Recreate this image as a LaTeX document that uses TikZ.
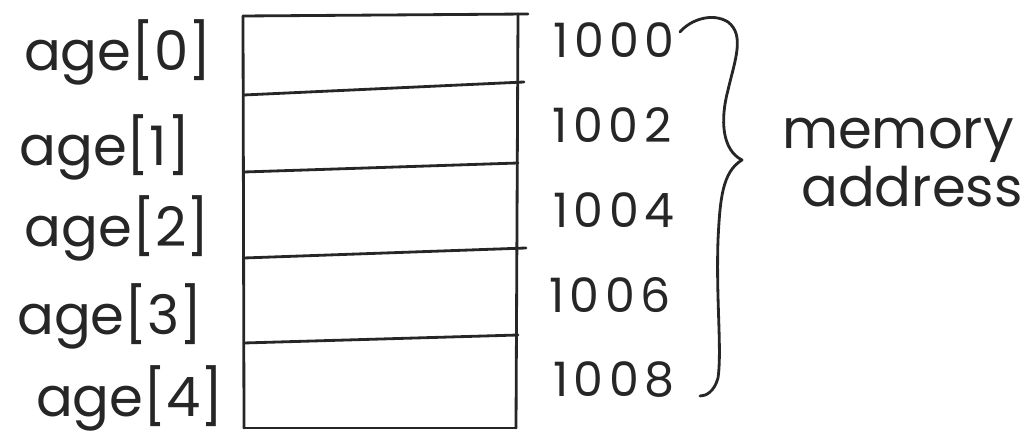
\documentclass[tikz,border=0pt]{standalone}
\usepackage{fontspec}
\setmainfont{Poppins}
\begin{document}
\begin{tikzpicture}[x=0.02cm,y=-0.02cm,
  ink/.style={line width=1.6pt,draw=black!85,line cap=round,line join=round},
  lbl/.style={font=\fontsize{31}{36}\selectfont\color{black!85},inner sep=0pt},
  num/.style={font=\fontsize{27}{32}\selectfont\color{black!85},inner sep=0pt},
  wide/.style={font=\fontsize{27}{32}\selectfont\addfontfeature{LetterSpace=12}\color{black!85},inner sep=0pt}]
\useasboundingbox (0,0) rectangle (1034,448);
% memory block
\draw[ink] (243,16) -- (528,14);
\draw[ink] (243,16) -- (244,428);
\draw[ink] (518,14) -- (516,428);
\draw[ink] (244,428) -- (516,428);
\draw[ink] (244,95) -- (524,82);
\draw[ink] (244,172) -- (518,163);
\draw[ink] (244,258) -- (526,248);
\draw[ink] (244,343) -- (518,335);
% labels
\node[lbl] (a0) at (118,52) {age[0]};
\node[lbl] (a1) at (105,147) {age[1]};
\node[lbl] (a2) at (117,228) {age[2]};
\node[lbl] (a3) at (110,316) {age[3]};
\node[lbl] (a4) at (130,398) {age[4]};
% addresses
\node[wide] (m0) at (614,40) {1000};
\node[wide] (m1) at (612,125) {1002};
\node[wide] (m2) at (614,210) {1004};
\node[wide] (m3) at (610,295) {1006};
\node[wide] (m4) at (614,380) {1008};
% brace
\draw[ink] (680,32) .. controls (690,20) and (712,12) .. (728,22)
  .. controls (745,35) and (735,60) .. (728,90)
  .. controls (720,120) and (722,150) .. (742,160)
  .. controls (722,172) and (720,200) .. (718,240)
  .. controls (716,300) and (722,350) .. (718,378)
  .. controls (714,392) and (706,396) .. (700,396);
% memory address
\node[lbl] (ma1) at (898,140) {memory};
\node[lbl] (ma2) at (912,187) {address};
\end{tikzpicture}
\end{document}
